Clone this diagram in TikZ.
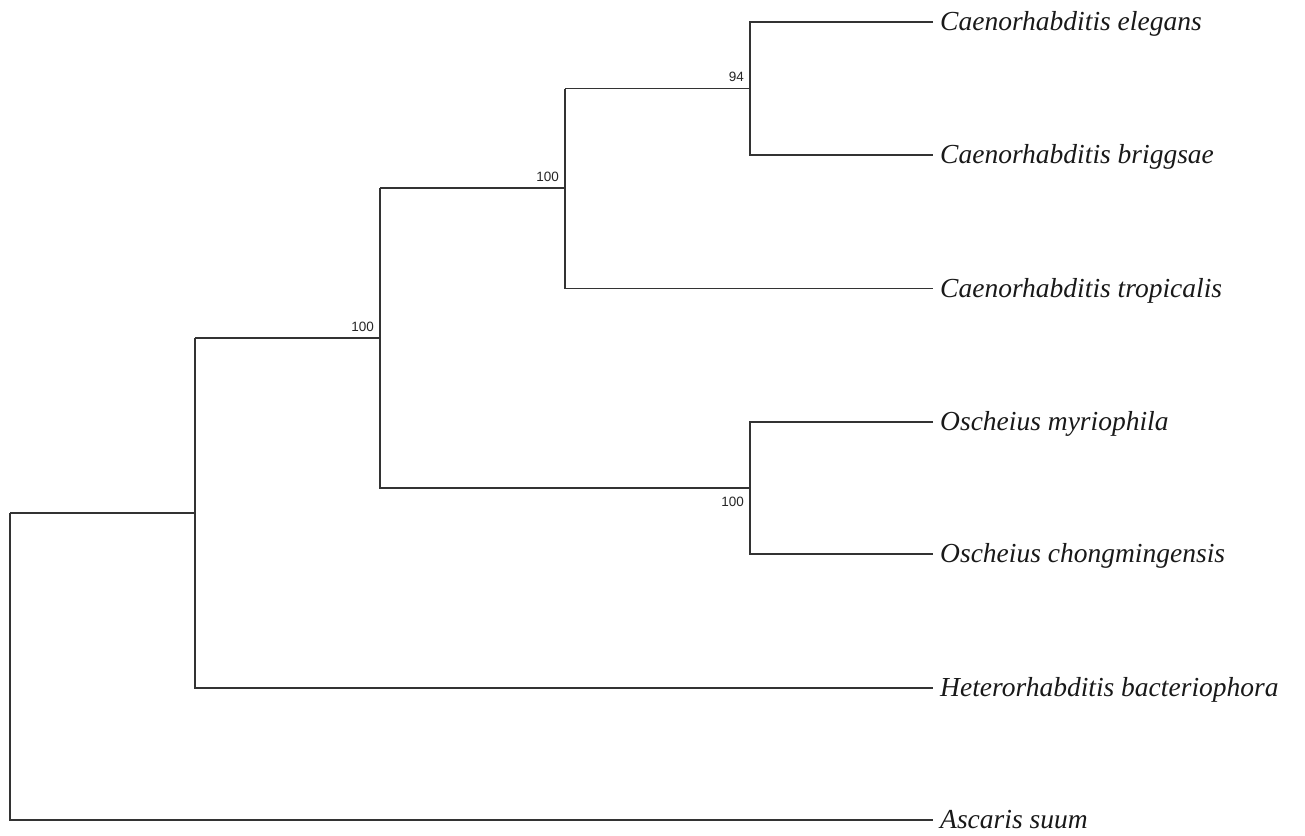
\documentclass[tikz,border=0pt]{standalone}
\usepackage{fontspec}
\setmainfont{Liberation Serif}
\newfontfamily\supfont{Liberation Sans}
\begin{document}
\begin{tikzpicture}[x=1pt,y=-1pt,
  branch/.style={line width=1.3pt, draw=black!80},
  leaf/.style={anchor=base west, inner sep=0pt, font=\fontsize{27.5}{32}\selectfont\itshape, text=black!90},
  supp/.style={inner sep=0pt, font=\supfont\fontsize{13.5}{16}\selectfont, text=black!85}]
\useasboundingbox (0,0) rectangle (1305,835);
% internal nodes
\coordinate (r) at (10,513);
\coordinate (n1) at (195,513);
\coordinate (n1t) at (195,338);
\coordinate (n1b) at (195,688);
\coordinate (n2) at (380,338);
\coordinate (n2t) at (380,188);
\coordinate (n2b) at (380,488);
\coordinate (n3) at (565,188);
\coordinate (n3t) at (565,88.5);
\coordinate (n3b) at (565,288.5);
\coordinate (n4) at (750,88.5);
\coordinate (n4t) at (750,22);
\coordinate (n4b) at (750,155);
\coordinate (n5) at (750,488);
\coordinate (n5t) at (750,422);
\coordinate (n5b) at (750,554);
\coordinate (rb) at (10,820);
% leaf ends
\coordinate (l1) at (933,22);
\coordinate (l2) at (933,155);
\coordinate (l3) at (933,288.5);
\coordinate (l4) at (933,422);
\coordinate (l5) at (933,554);
\coordinate (l6) at (933,688);
\coordinate (l7) at (933,820);
% branches
\draw[branch] (r) -- (rb) -- (l7);
\draw[branch] (r) -- (n1);
\draw[branch] (n1t) -- (n1b) -- (l6);
\draw[branch] (n1t) -- (n2);
\draw[branch] (n2t) -- (n2b) -- (n5);
\draw[branch] (n2t) -- (n3);
\draw[branch] (n3t) -- (n3b) -- (l3);
\draw[branch] (n3t) -- (n4);
\draw[branch] (l1) -- (n4t) -- (n4b) -- (l2);
\draw[branch] (l4) -- (n5t) -- (n5b) -- (l5);
% leaf labels
\node[leaf] (t1) at ([xshift=7pt,yshift=-8.5pt]l1) {Caenorhabditis elegans};
\node[leaf] (t2) at ([xshift=7pt,yshift=-8.5pt]l2) {Caenorhabditis briggsae};
\node[leaf] (t3) at ([xshift=7pt,yshift=-8.5pt]l3) {Caenorhabditis tropicalis};
\node[leaf] (t4) at ([xshift=7pt,yshift=-8.5pt]l4) {Oscheius myriophila};
\node[leaf] (t5) at ([xshift=7pt,yshift=-8.5pt]l5) {Oscheius chongmingensis};
\node[leaf] (t6) at ([xshift=7pt,yshift=-8.5pt]l6) {Heterorhabditis bacteriophora};
\node[leaf] (t7) at ([xshift=7pt,yshift=-8.5pt]l7) {Ascaris suum};
% support values
\node[supp, anchor=base east] (s4) at (744,81) {94};
\node[supp, anchor=base east] (s3) at (559,181) {100};
\node[supp, anchor=base east] (s2) at (374,331) {100};
\node[supp, anchor=base east] (s5) at (744,506) {100};
\end{tikzpicture}
\end{document}
